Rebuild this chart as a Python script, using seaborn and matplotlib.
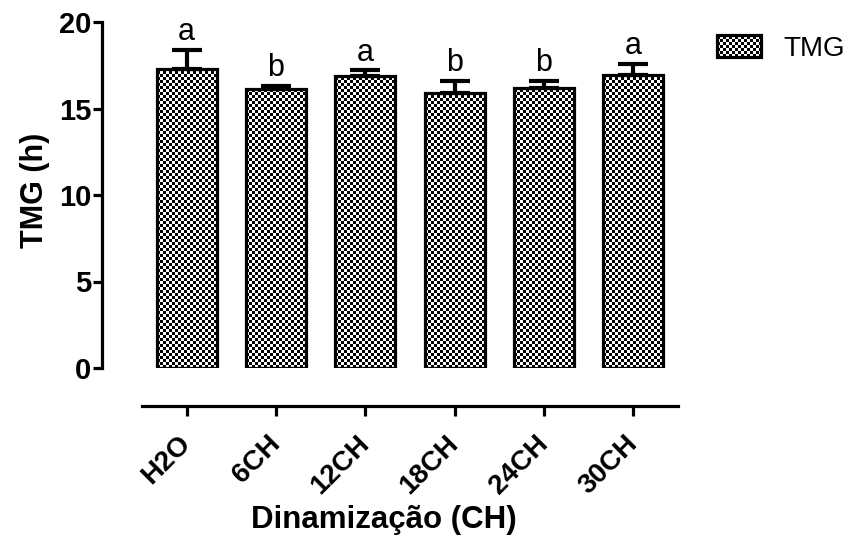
"""
Recreate the TMG bar chart (Prism style, checkerboard bars).
"""

import matplotlib
matplotlib.use("Agg")
import matplotlib.pyplot as plt
import numpy as np
import seaborn as sns
from matplotlib.patches import Patch

categories = ["H2O", "6CH", "12CH", "18CH", "24CH", "30CH"]
tmg_mean = [17.3, 16.1, 16.85, 15.9, 16.2, 16.95]
tmg_err = [1.1, 0.2, 0.35, 0.7, 0.4, 0.65]
letters = ["a", "b", "a", "b", "b", "a"]

DPI = 100


def checker(w, h, cell=3):
    """RGB checkerboard image of w x h pixels."""
    yy, xx = np.mgrid[0:h, 0:w]
    board = ((yy // cell + xx // cell) % 2).astype(float)
    return np.dstack([board, board, board])


sns.set_style("ticks")
plt.rcParams["font.family"] = ["Liberation Sans", "DejaVu Sans"]
plt.rcParams["text.color"] = "black"
plt.rcParams["axes.labelcolor"] = "black"
plt.rcParams["xtick.color"] = "black"
plt.rcParams["ytick.color"] = "black"
plt.rcParams["axes.edgecolor"] = "black"

fig = plt.figure(figsize=(8.5, 5.39), dpi=DPI)
fig.patch.set_facecolor("white")
ax = fig.add_axes([142 / 850, 1 - 368 / 539, 536 / 850, 346 / 539])
ax.patch.set_alpha(0)

sns.barplot(
    x=categories,
    y=tmg_mean,
    color="white",
    edgecolor="black",
    linewidth=2.3,
    width=0.67,
    errorbar=None,
    ax=ax,
)
for bar in ax.patches:
    bar.set_facecolor("none")

ax.errorbar(
    x=np.arange(len(categories)),
    y=tmg_mean,
    yerr=[np.zeros(len(tmg_err)), tmg_err],
    fmt="none",
    ecolor="black",
    elinewidth=3,
    capsize=11,
    capthick=3,
    zorder=3,
)

for i, (m, e, lab) in enumerate(zip(tmg_mean, tmg_err, letters)):
    ax.text(i, m + e + 0.15, lab, ha="center", va="bottom", fontsize=22)

ax.set_xlim(-0.5, len(categories) - 0.5)
ax.set_ylim(0, 20)
ax.set_yticks([0, 5, 10, 15, 20])

sns.despine(ax=ax)
ax.spines["left"].set_position(("outward", 28.8))
ax.spines["bottom"].set_position(("outward", 27.4))
for side in ["left", "bottom"]:
    ax.spines[side].set_linewidth(2.3)
ax.tick_params(axis="both", width=2.3, color="black")
ax.tick_params(axis="y", length=6.5, pad=1, labelsize=21)
ax.tick_params(axis="x", length=7, pad=17, labelsize=20)
for lab in ax.get_yticklabels():
    lab.set_fontweight("bold")
for lab in ax.get_xticklabels():
    lab.set_fontweight("bold")
    lab.set_rotation(45)
    lab.set_ha("right")
    lab.set_va("center")
    lab.set_rotation_mode("anchor")

ax.set_xlabel("Dinamização (CH)", fontsize=22.5, fontweight="bold", va="center")
ax.xaxis.set_label_coords(0.452, -0.44)
ax.set_ylabel("TMG (h)", fontsize=22, fontweight="bold", va="center")
ax.yaxis.set_label_coords(-0.2, 0.514)

leg = fig.legend(
    handles=[Patch(facecolor="none", edgecolor="black", linewidth=2.3, label="TMG")],
    loc="center left",
    bbox_to_anchor=(717 / 850, 1 - 48.5 / 539),
    frameon=False,
    fontsize=20,
    handlelength=1.58,
    handleheight=0.83,
    handletextpad=0.8,
    borderpad=0,
    borderaxespad=0,
)

# checkerboard fill under every bar and the legend key
fig.canvas.draw()
renderer = fig.canvas.get_renderer()
boxes = [bar.get_window_extent(renderer) for bar in ax.patches]
boxes.append(leg.legend_handles[0].get_window_extent(renderer))
for bb in boxes:
    x0, y0 = int(round(bb.x0)), int(round(bb.y0))
    w, h = int(round(bb.width)), int(round(bb.height))
    if w > 0 and h > 0:
        fig.figimage(checker(w, h), xo=x0, yo=y0, zorder=-1, origin="lower")

fig.savefig("out.png", dpi=DPI)
